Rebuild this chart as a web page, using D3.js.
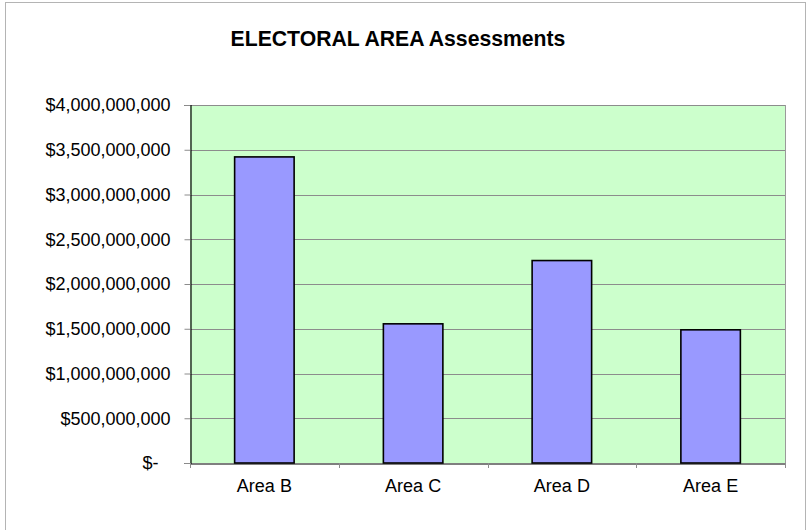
<!DOCTYPE html>
<html>
<head>
<meta charset="utf-8">
<script src="https://cdn.jsdelivr.net/npm/d3@7"></script>
<style>
  html, body { margin: 0; padding: 0; background: #ffffff; }
  svg { display: block; font-family: "Liberation Sans", Arial, sans-serif; }
</style>
</head>
<body>
<svg id="chart" width="808" height="530"></svg>
<script>
// Assessment totals by electoral area
const categories = ["Area B", "Area C", "Area D", "Area E"];
const assessments = [3420000000, 1555000000, 2262000000, 1488000000];
const yTicks = [0, 500000000, 1000000000, 1500000000, 2000000000, 2500000000, 3000000000, 3500000000, 4000000000];
const chartTitle = "ELECTORAL AREA Assessments";

const svg = d3.select("#chart");
const plot = { left: 190, right: 785, top: 105, bottom: 463 };

// Outer chart frame
svg.append("rect")
  .attr("x", 5.5).attr("y", 2.5)
  .attr("width", 800).attr("height", 540)
  .attr("fill", "#ffffff")
  .attr("stroke", "#b4b4b4")
  .attr("stroke-width", 1);

svg.append("text")
  .attr("x", 398).attr("y", 46)
  .attr("text-anchor", "middle")
  .attr("font-size", "21.2px")
  .attr("font-weight", "bold")
  .attr("fill", "#000")
  .text(chartTitle);

const x = d3.scaleBand()
  .domain(categories)
  .range([plot.left, plot.right])
  .paddingInner(0.6)
  .paddingOuter(0.3);

const y = d3.scaleLinear()
  .domain([0, 4000000000])
  .range([plot.bottom, plot.top]);

// Plot area background
svg.append("rect")
  .attr("x", plot.left).attr("y", plot.top)
  .attr("width", plot.right - plot.left)
  .attr("height", plot.bottom - plot.top)
  .attr("fill", "#ccffcc");

// Horizontal gridlines
svg.append("g")
  .selectAll("line")
  .data(yTicks.filter(d => d > 0))
  .join("line")
  .attr("x1", plot.left).attr("x2", plot.right)
  .attr("y1", d => Math.round(y(d)) + 0.5)
  .attr("y2", d => Math.round(y(d)) + 0.5)
  .attr("stroke", "#8c8c8c")
  .attr("stroke-width", 1);

// Right edge of the plot area
svg.append("line")
  .attr("x1", plot.right + 0.5).attr("x2", plot.right + 0.5)
  .attr("y1", plot.top).attr("y2", plot.bottom + 5)
  .attr("stroke", "#9a9a9a");

// Y axis with accounting-style labels
const fmt = d => d === 0 ? "$-" : "$" + d3.format(",")(d);
const yAxis = d3.axisLeft(y)
  .tickValues(yTicks)
  .tickSize(6)
  .tickPadding(14)
  .tickFormat(fmt);

const yG = svg.append("g")
  .attr("transform", `translate(${plot.left + 0.5},0)`)
  .call(yAxis);
yG.select(".domain").attr("stroke", "#000").attr("stroke-width", 1.2);
yG.selectAll(".tick line").attr("stroke", "#8c8c8c");
yG.selectAll(".tick text")
  .attr("font-size", "18px")
  .attr("font-family", "'Liberation Sans', Arial, sans-serif")
  .attr("fill", "#000")
  .attr("dx", d => d === 0 ? -12 : 0);

// Bars
svg.append("g")
  .selectAll("rect")
  .data(categories.map((c, i) => ({ c, v: assessments[i] })))
  .join("rect")
  .attr("x", d => x(d.c))
  .attr("y", d => y(d.v))
  .attr("width", x.bandwidth())
  .attr("height", d => y(0) - y(d.v))
  .attr("fill", "#9999ff")
  .attr("stroke", "#000")
  .attr("stroke-width", 1.6);

// Category axis
const xG = svg.append("g")
  .attr("transform", `translate(0,${plot.bottom + 0.5})`)
  .call(d3.axisBottom(x).tickSize(0).tickPadding(16));
xG.select(".domain").attr("stroke", "#000").attr("stroke-width", 1.2);
xG.selectAll(".tick text")
  .attr("font-size", "18px")
  .attr("font-family", "'Liberation Sans', Arial, sans-serif")
  .attr("fill", "#000");

// Category boundary tick marks
const step = x.step();
const bounds = d3.range(categories.length + 1).map(i => plot.left + i * step);
svg.append("g")
  .selectAll("line")
  .data(bounds)
  .join("line")
  .attr("x1", d => Math.round(d) + 0.5).attr("x2", d => Math.round(d) + 0.5)
  .attr("y1", plot.bottom).attr("y2", plot.bottom + 5)
  .attr("stroke", "#8c8c8c");
</script>
</body>
</html>
